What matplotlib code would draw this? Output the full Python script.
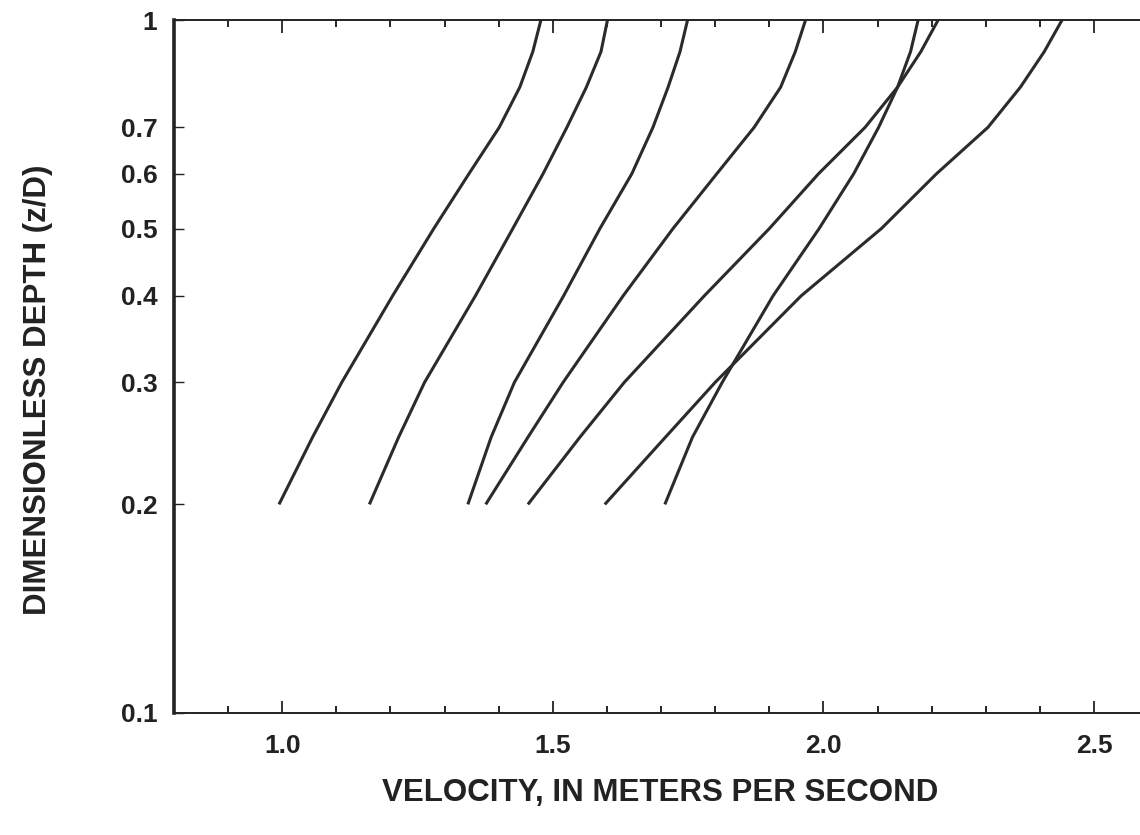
import numpy as np
import matplotlib
matplotlib.use('Agg')
import matplotlib.pyplot as plt
from matplotlib.ticker import FixedLocator, MultipleLocator, NullLocator, NullFormatter

params = {
    'font.family'  : ['Liberation Sans', 'DejaVu Sans'],
    'font.weight'  : 'bold',
    'font.size'    : 19
}
matplotlib.rcParams.update(params)

# depth levels (z/D) and velocity
depth = [0.2, 0.25, 0.3, 0.4, 0.5, 0.6, 0.7, 0.8, 0.9, 1.0]
vel_1 = [0.994, 1.056, 1.110, 1.204, 1.280, 1.345, 1.401, 1.439, 1.463, 1.478]
vel_2 = [1.161, 1.215, 1.263, 1.357, 1.426, 1.482, 1.526, 1.562, 1.589, 1.601]
vel_3 = [1.343, 1.386, 1.429, 1.520, 1.587, 1.646, 1.685, 1.713, 1.735, 1.749]
vel_4 = [1.376, 1.454, 1.519, 1.630, 1.722, 1.803, 1.872, 1.921, 1.948, 1.967]
vel_5 = [1.454, 1.550, 1.632, 1.780, 1.900, 1.991, 2.077, 2.137, 2.180, 2.212]
vel_6 = [1.596, 1.708, 1.800, 1.959, 2.107, 2.209, 2.304, 2.364, 2.408, 2.441]
vel_7 = [1.707, 1.758, 1.813, 1.907, 1.992, 2.056, 2.102, 2.137, 2.161, 2.175]

ytick_vals = [0.1, 0.2, 0.3, 0.4, 0.5, 0.6, 0.7, 1.0]
ytick_labels = ['0.1', '0.2', '0.3', '0.4', '0.5', '0.6', '0.7', '1']
xtick_vals = [1.0, 1.5, 2.0, 2.5]
xtick_labels = ['1.0', '1.5', '2.0', '2.5']

fig = plt.figure(figsize=(11.4, 8.35), dpi=100)
ax = fig.add_axes([174/1140, 122/835, 1 - 174/1140, 693/835])

for v in [vel_1, vel_2, vel_3, vel_4, vel_5, vel_6, vel_7]:
  ax.plot(v, depth, color='#2b2b2b', lw=2.2, solid_capstyle='butt',
          solid_joinstyle='round')

ax.set_yscale('log')
ax.set_ylim(0.1, 1.0)
ax.set_xlim(0.8, 2.585)

ax.yaxis.set_major_locator(FixedLocator(ytick_vals))
ax.set_yticklabels(ytick_labels)
ax.yaxis.set_minor_locator(NullLocator())
ax.yaxis.set_minor_formatter(NullFormatter())

ax.xaxis.set_major_locator(FixedLocator(xtick_vals))
ax.set_xticklabels(xtick_labels)
ax.xaxis.set_minor_locator(MultipleLocator(0.1))

ax.tick_params(axis='x', which='major', direction='in', length=9, width=1.3,
               top=True, pad=15, colors='#222222', labelsize=19)
ax.tick_params(axis='x', which='minor', direction='in', length=5, width=1.2,
               top=True)
ax.tick_params(axis='y', which='major', direction='in', length=7, width=1.0,
               pad=12, colors='#222222', labelsize=19)

ax.spines['right'].set_visible(False)
ax.spines['left'].set_linewidth(2.6)
ax.spines['bottom'].set_linewidth(1.4)
ax.spines['top'].set_linewidth(1.4)
for s in ['left', 'bottom', 'top']:
  ax.spines[s].set_color('#222222')

fig.text(660/1140, 1 - 793/835, 'VELOCITY, IN METERS PER SECOND', ha='center',
         va='center', fontsize=22.5, fontweight='bold', color='#222222')
fig.text(38/1140, 1 - 390/835, 'DIMENSIONLESS DEPTH (z/D)', ha='center',
         va='center', rotation=90, fontsize=22.5, fontweight='bold', color='#222222')

fig.savefig('out.png', dpi=100, facecolor='white')
